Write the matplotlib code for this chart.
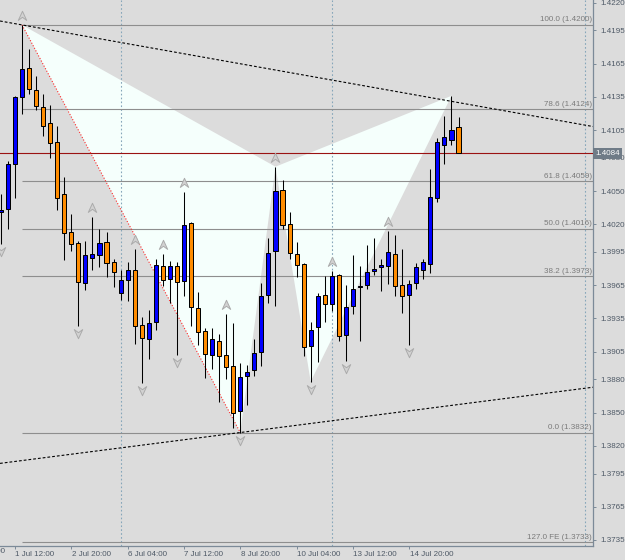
import matplotlib
matplotlib.use('Agg')
import matplotlib.pyplot as plt
import numpy as np
from matplotlib.path import Path
from matplotlib.transforms import offset_copy, ScaledTranslation, blended_transform_factory

plt.rcParams['font.family'] = ['Liberation Sans', 'DejaVu Sans']

# ---------------- data (H4 bars, index 0 = 1 Jul 12:00) ----------------
bar_index = list(range(-2, 64))
opens = [1.4031, 1.4034, 1.4074, 1.4135, 1.4161, 1.4141, 1.4126, 1.4111, 1.4094, 1.4047,
         1.4013, 1.4003, 1.3967, 1.3990, 1.3992, 1.4004, 1.3986, 1.3958, 1.3970, 1.3979,
         1.3929, 1.3916, 1.3932, 1.3982, 1.3971, 1.3982, 1.3969, 1.4021, 1.3944, 1.3924,
         1.3902, 1.3915, 1.3902, 1.3892, 1.3851, 1.3883, 1.3888, 1.3905, 1.3956, 1.3996,
         1.4051, 1.4020, 1.3993, 1.3984, 1.3910, 1.3927, 1.3956, 1.3948, 1.3974, 1.3920,
         1.3946, 1.3963, 1.3965, 1.3978, 1.3981, 1.3982, 1.3993, 1.3965, 1.3956, 1.3967,
         1.3979, 1.3984, 1.4044, 1.4092, 1.4096, 1.4108]
highs = [1.4047, 1.4077, 1.4136, 1.4200, 1.4178, 1.4154, 1.4138, 1.4128, 1.4109, 1.4063,
         1.4029, 1.4005, 1.4005, 1.4027, 1.4016, 1.4013, 1.3989, 1.3979, 1.3986, 1.3998,
         1.3936, 1.3943, 1.3989, 1.3993, 1.3987, 1.3986, 1.4049, 1.4022, 1.3959, 1.3926,
         1.3926, 1.3921, 1.3939, 1.3931, 1.3895, 1.3893, 1.3916, 1.3967, 1.4008, 1.4072,
         1.4060, 1.4031, 1.4004, 1.3985, 1.3932, 1.3958, 1.3973, 1.3978, 1.3975, 1.3965,
         1.3992, 1.3982, 1.4001, 1.4008, 1.3989, 1.4014, 1.4010, 1.3998, 1.3970, 1.3985,
         1.3989, 1.4070, 1.4098, 1.4118, 1.4136, 1.4117]
lows = [1.4002, 1.4016, 1.4044, 1.4120, 1.4138, 1.4123, 1.4100, 1.4080, 1.4033, 1.3988,
        1.3996, 1.3928, 1.3961, 1.3979, 1.3981, 1.3972, 1.3963, 1.3952, 1.3951, 1.3912,
        1.3877, 1.3898, 1.3925, 1.3964, 1.3949, 1.3902, 1.3955, 1.3928, 1.3911, 1.3881,
        1.3889, 1.3860, 1.3880, 1.3836, 1.3832, 1.3857, 1.3883, 1.3892, 1.3949, 1.3946,
        1.4016, 1.3989, 1.3972, 1.3901, 1.3878, 1.3896, 1.3932, 1.3942, 1.3915, 1.3897,
        1.3939, 1.3915, 1.3962, 1.3974, 1.3960, 1.3966, 1.3955, 1.3940, 1.3911, 1.3962,
        1.3971, 1.3976, 1.4040, 1.4074, 1.4092, 1.4084]
closes = [1.4033, 1.4074, 1.4135, 1.4160, 1.4142, 1.4127, 1.4109, 1.4093, 1.4044, 1.4012,
          1.4002, 1.3968, 1.3992, 1.3993, 1.4003, 1.3985, 1.3977, 1.3970, 1.3979, 1.3928,
          1.3917, 1.3931, 1.3983, 1.3970, 1.3982, 1.3968, 1.4019, 1.3945, 1.3923, 1.3903,
          1.3916, 1.3901, 1.3891, 1.3850, 1.3882, 1.3887, 1.3904, 1.3955, 1.3994, 1.4050,
          1.4019, 1.3994, 1.3983, 1.3909, 1.3925, 1.3955, 1.3948, 1.3973, 1.3919, 1.3945,
          1.3962, 1.3964, 1.3977, 1.3980, 1.3983, 1.3995, 1.3964, 1.3955, 1.3966, 1.3981,
          1.3986, 1.4045, 1.4094, 1.4099, 1.4105, 1.4084]

up_fractals = [1, 11, 17, 21, 24, 30, 37, 45, 53]
down_fractals = [-2, 9, 18, 23, 32, 42, 47, 56]

pattern_idx = [1, 32, 37, 42, 62]          # X, A, B, C, D
pattern_px = [1.4200, 1.3832, 1.4072, 1.3878, 1.4136]

upper_line_idx = [1, 62]
upper_line_px = [1.4200, 1.4131]
lower_line_idx = [32, 81]
lower_line_px = [1.3832, 1.3872]

separator_idx = [15, 45, 81]

fib_start_idx = 1
fib_labels = ['0.0', '38.2', '50.0', '61.8', '78.6', '100.0', '127.0 FE']
fib_prices = [1.3832, 1.3973, 1.4016, 1.4059, 1.4124, 1.4200, 1.3733]

current_price = 1.4084

ytick_vals = [1.4220, 1.4195, 1.4165, 1.4135, 1.4105, 1.4080, 1.4050, 1.4020, 1.3995,
              1.3965, 1.3935, 1.3905, 1.3880, 1.3850, 1.3820, 1.3795, 1.3765, 1.3735]
xtick_idx = [-8, 0, 8, 16, 24, 32, 40, 48, 56]
xtick_labels = ['30 Jun 04:00', '1 Jul 12:00', '2 Jul 20:00', '6 Jul 04:00', '7 Jul 12:00',
                '8 Jul 20:00', '10 Jul 04:00', '13 Jul 12:00', '14 Jul 20:00']

# ---------------- style ----------------
BG = '#dcdcdc'
BULL = '#0000ff'
BEAR = '#ff8c00'
AXC = '#7c8a98'
LABC = '#4e5966'
FS = 5.8
XMIN, XMAX = -2.13, 82.1
YMIN, YMAX = 1.3730, 1.42225

fig = plt.figure(figsize=(6.25, 5.6), dpi=100, facecolor=BG)
ax = fig.add_axes([0, 14.5 / 560, 593 / 625, 545.5 / 560])
ax.set_facecolor(BG)
ax.set_xlim(XMIN, XMAX)
ax.set_ylim(YMIN, YMAX)

# harmonic pattern triangles
ax.fill(pattern_idx[0:3], pattern_px[0:3], color='#f5fffc', lw=0, zorder=1)
ax.fill(pattern_idx[2:5], pattern_px[2:5], color='#f5fffc', lw=0, zorder=1)
ax.plot(pattern_idx[0:2], pattern_px[0:2], color='#ff2a2a', lw=0.8,
        linestyle=(0, (1, 1.6)), zorder=4)

# period separators
for s in separator_idx:
    ax.axvline(s, color='#86a6ba', lw=0.8, linestyle=(0, (1.5, 2)), zorder=2)

# fibonacci levels
lbl_tr = offset_copy(ax.transData, fig=fig, x=0, y=1.5, units='dots')
for lab, p in zip(fib_labels, fib_prices):
    ax.plot([fib_start_idx, XMAX], [p, p], color='#8e8e8e', lw=0.8, zorder=2,
            solid_capstyle='butt')
    ax.text(81.95, p, f'{lab} ({p:.4f})', transform=lbl_tr, ha='right', va='bottom',
            fontsize=FS, color='#7a7a7a', zorder=3)

# current price line
ax.axhline(current_price, color='#9a1212', lw=0.8, zorder=3)

# trend lines (rays extended over the chart)
for li, lp in ((upper_line_idx, upper_line_px), (lower_line_idx, lower_line_px)):
    slope = (lp[1] - lp[0]) / (li[1] - li[0])
    xs = np.array([XMIN, XMAX])
    ax.plot(xs, lp[0] + slope * (xs - li[0]), color='black', lw=0.8,
            linestyle=(0, (2.5, 1.8)), zorder=4)

# candles
idx = np.array(bar_index)
o = np.array(opens); h = np.array(highs); l = np.array(lows); c = np.array(closes)
bull = c >= o
ax.vlines(idx, l, h, color='black', lw=0.75, zorder=5)
ax.bar(idx, np.maximum(np.abs(c - o), 0.00002), bottom=np.minimum(o, c), width=0.58,
       color=np.where(bull, BULL, BEAR), edgecolor='black', linewidth=0.72, zorder=6)

# fractal arrows
up_path = Path([(0, 1), (0.8, -0.75), (0, -0.15), (-0.8, -0.75), (0, 1)],
               [Path.MOVETO, Path.LINETO, Path.LINETO, Path.LINETO, Path.CLOSEPOLY])
dn_path = Path([(0, -1), (0.8, 0.75), (0, 0.15), (-0.8, 0.75), (0, -1)],
               [Path.MOVETO, Path.LINETO, Path.LINETO, Path.LINETO, Path.CLOSEPOLY])
hi_map = dict(zip(bar_index, highs))
lo_map = dict(zip(bar_index, lows))
up_tr = offset_copy(ax.transData, fig=fig, x=0, y=9, units='dots')
dn_tr = offset_copy(ax.transData, fig=fig, x=0, y=-7, units='dots')
ax.plot(up_fractals, [hi_map[i] for i in up_fractals], transform=up_tr, linestyle='none',
        marker=up_path, markersize=7.5, markerfacecolor='#d2d2d2',
        markeredgecolor='#ababab', markeredgewidth=0.7, zorder=7)
ax.plot(down_fractals, [lo_map[i] for i in down_fractals], transform=dn_tr, linestyle='none',
        marker=dn_path, markersize=7.5, markerfacecolor='#d2d2d2',
        markeredgecolor='#ababab', markeredgewidth=0.7, zorder=7)

# axes styling
for side in ('top', 'left'):
    ax.spines[side].set_visible(False)
for side in ('right', 'bottom'):
    ax.spines[side].set_color(AXC)
    ax.spines[side].set_linewidth(0.9)

ax.yaxis.tick_right()
ax.set_yticks(ytick_vals)
ax.set_yticklabels([f'{v:.4f}' for v in ytick_vals])
ax.tick_params(axis='y', direction='out', length=2.5, width=0.7, color=AXC,
               labelsize=FS, labelcolor=LABC, pad=2.5)

ax.set_xticks(xtick_idx[1:])
ax.set_xticklabels(xtick_labels[1:], ha='left')
ax.tick_params(axis='x', direction='out', length=2.5, width=0.7, color=AXC,
               labelsize=FS, labelcolor=LABC, pad=1.5)
shift = ScaledTranslation(0.5 / 100, 0, fig.dpi_scale_trans)
for t in ax.get_xticklabels():
    t.set_transform(t.get_transform() + shift)

# partially visible first time label
xl_tr = blended_transform_factory(ax.transData, ax.transAxes) + shift
ax.text(xtick_idx[0], -0.004, xtick_labels[0], transform=xl_tr, ha='left', va='top',
        fontsize=FS, color=LABC, clip_on=False)

# current price tag on the price scale
tag_tr = blended_transform_factory(ax.transAxes, ax.transData)
ax.text(1.004, current_price, f'{current_price:.4f}', transform=tag_tr, ha='left',
        va='center', fontsize=FS, color='white', zorder=10, clip_on=False,
        bbox=dict(boxstyle='square,pad=0.25', fc='#6f7b87', ec='none'))

fig.savefig('out.png', dpi=100, facecolor=BG)
